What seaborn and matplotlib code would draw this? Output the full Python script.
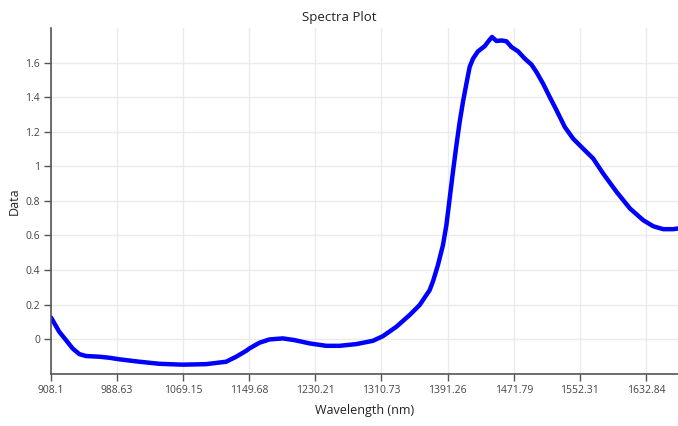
import numpy as np
import pandas as pd
import matplotlib
matplotlib.use("Agg")
import matplotlib.pyplot as plt
import seaborn as sns

# values
wavelength = [908.1, 918.2, 926.4, 934.4, 942.6, 950.8, 967.0, 979.2, 991.4,
              1015.8, 1040.2, 1068.2, 1097.1, 1121.5, 1133.7, 1145.9, 1149.9,
              1162.1, 1174.3, 1190.5, 1204.8, 1223.1, 1243.4, 1259.7, 1280.0,
              1300.3, 1312.5, 1328.8, 1345.0, 1357.2, 1369.4, 1373.5, 1379.5,
              1385.6, 1389.8, 1393.8, 1397.8, 1402.0, 1406.0, 1410.0, 1414.2,
              1418.2, 1422.3, 1428.3, 1436.5, 1441.8, 1445.4, 1450.8, 1456.9,
              1463.0, 1469.1, 1477.1, 1485.3, 1493.5, 1499.6, 1507.6, 1515.8,
              1524.0, 1534.1, 1544.2, 1556.4, 1568.6, 1580.8, 1597.1, 1613.4,
              1629.6, 1641.8, 1654.0, 1666.2, 1671.9]
data = [0.125, 0.042, -0.006, -0.054, -0.087, -0.098, -0.102, -0.108, -0.117,
        -0.131, -0.143, -0.148, -0.145, -0.131, -0.102, -0.068, -0.054,
        -0.021, -0.002, 0.004, -0.006, -0.025, -0.039, -0.039, -0.029,
        -0.010, 0.017, 0.071, 0.139, 0.197, 0.283, 0.334, 0.428,
        0.543, 0.659, 0.813, 0.967, 1.121, 1.256, 1.372, 1.478,
        1.575, 1.623, 1.665, 1.695, 1.728, 1.748, 1.725, 1.728,
        1.723, 1.690, 1.665, 1.623, 1.588, 1.545, 1.478, 1.400,
        1.324, 1.227, 1.160, 1.102, 1.045, 0.958, 0.852, 0.756,
        0.688, 0.653, 0.636, 0.636, 0.640]

x_ticks = [908.1, 988.63, 1069.15, 1149.68, 1230.21, 1310.73, 1391.26,
           1471.79, 1552.31, 1632.84]
y_ticks = [0, 0.2, 0.4, 0.6, 0.8, 1.0, 1.2, 1.4, 1.6]

df = pd.DataFrame({"Wavelength": wavelength, "Data": data})

sns.set_style("whitegrid")
plt.rcParams["font.family"] = ["Open Sans", "DejaVu Sans"]

fig = plt.figure(figsize=(6.78, 4.26), dpi=100)
ax = fig.add_axes([51 / 678, 1 - 374 / 426, 1 - 51 / 678, (374 - 28) / 426])

sns.lineplot(data=df, x="Wavelength", y="Data", color="#0000ff",
             linewidth=3.2, ax=ax)
for line in ax.get_lines():
    line.set_solid_joinstyle("round")
    line.set_solid_capstyle("round")

ax.set_xlim(908.1, 1672.0)
ax.set_ylim(-0.202, 1.8)
ax.set_xticks(x_ticks)
ax.set_xticklabels([f"{v:g}" for v in x_ticks])
ax.set_yticks(y_ticks)
ax.set_yticklabels([f"{v:g}" for v in y_ticks])

ax.grid(True, color="#ebebeb", linewidth=1)
for side in ["top", "right"]:
    ax.spines[side].set_visible(False)
for side in ["left", "bottom"]:
    ax.spines[side].set_color("#555555")
    ax.spines[side].set_linewidth(1.2)

ax.tick_params(axis="both", which="major", direction="out", length=5,
               width=1, color="#555555", labelsize=7.5, labelcolor="#444444",
               pad=3, left=True, bottom=True)

ax.set_xlabel("Wavelength (nm)", fontsize=9, color="#222222", labelpad=6)
ax.set_ylabel("Data", fontsize=9, color="#222222", labelpad=3)
fig.text(0.5, 1 - 18 / 426, "Spectra Plot", ha="center", va="center",
         fontsize=9.5, color="#222222")

fig.savefig("out.png", dpi=100)
